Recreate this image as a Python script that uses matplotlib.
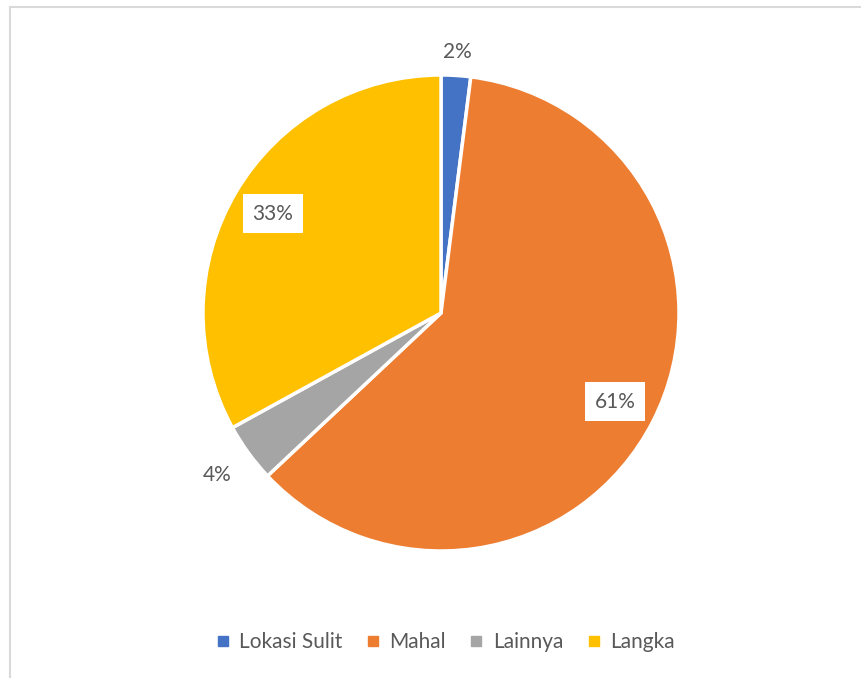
import numpy as np
import matplotlib.pyplot as plt
from matplotlib.lines import Line2D

# Data
categories = ['Lokasi Sulit', 'Mahal', 'Lainnya', 'Langka']
shares = [2, 61, 4, 33]
colors = ['#4472C4', '#ED7D31', '#A5A5A5', '#FFC000']
label_dist = [1.10, 0.82, 1.16, 0.82]
label_boxed = [False, True, False, True]

text_color = '#595959'
plt.rcParams['font.family'] = ['Lato', 'DejaVu Sans']

fig = plt.figure(figsize=(8.62, 6.78), dpi=100)
ax = fig.add_axes([0, 0, 1, 1])

# chart frame (only top and left edges visible in the crop)
ax.plot([10.5, 10.5], [0, 671], color='#D9D9D9', lw=1.5)
ax.plot([10.5, 862], [671, 671], color='#D9D9D9', lw=1.5)

cx, cy, r = 441, 678 - 313, 238
wedges, _ = ax.pie(shares, colors=colors, startangle=90, counterclock=False,
                   center=(cx, cy), radius=r, frame=True,
                   wedgeprops=dict(edgecolor='white', linewidth=2.5))
ax.set_xlim(0, 862)
ax.set_ylim(0, 678)
ax.set_aspect('equal')
ax.axis('off')

for w, val, d, boxed in zip(wedges, shares, label_dist, label_boxed):
    ang = np.deg2rad((w.theta1 + w.theta2) / 2)
    x = cx + d * r * np.cos(ang)
    y = cy + d * r * np.sin(ang)
    bbox = dict(boxstyle='square,pad=0.45', fc='white', ec='none') if boxed else None
    ax.text(x, y, f'{val}%', ha='center', va='center', fontsize=15,
            color=text_color, bbox=bbox)

handles = [Line2D([], [], marker='s', ls='none', markersize=7,
                  markerfacecolor=c, markeredgecolor=c) for c in colors]
fig.legend(handles, categories, loc='center', bbox_to_anchor=(445 / 862, 1 - 642 / 678),
           ncol=4, frameon=False, fontsize=15, handlelength=0.7, handletextpad=0.45,
           columnspacing=1.1, labelcolor=text_color)

fig.savefig('out.png', dpi=100)
